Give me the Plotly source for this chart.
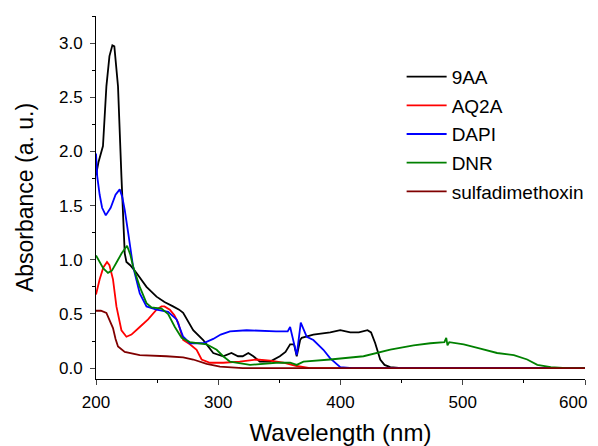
import plotly.graph_objects as go

# ---- data ----
wl_9aa = [200, 202, 205.7, 208.5, 211, 213.4, 215, 218, 220.8, 222.5, 223.5, 224.9, 228, 233, 241.3,
          249.5, 256, 263, 268, 271.3, 275, 279.5, 287.7, 295.9, 304, 310.8, 316.2, 320, 324.6,
          328.7, 334, 342.4, 350.4, 355, 358.8, 362, 364.2, 367, 368.3, 377.8, 391.6, 399.8, 408,
          415, 422.1, 425, 428.4, 432.5, 436, 440.7, 450, 500, 550, 600]
abs_9aa = [1.78, 1.9, 2.05, 2.6, 2.88, 2.98, 2.97, 2.6, 1.77, 1.38, 1.06, 0.98, 0.95, 0.88, 0.75,
           0.66, 0.61, 0.57, 0.54, 0.51, 0.44, 0.35, 0.26, 0.14, 0.11, 0.14, 0.11, 0.11, 0.14,
           0.11, 0.06, 0.06, 0.11, 0.15, 0.22, 0.22, 0.11, 0.26, 0.28, 0.31, 0.33, 0.35, 0.33,
           0.33, 0.35, 0.33, 0.23, 0.08, 0.03, 0.01, 0.0, 0.0, 0.0, 0.0]

wl_aq2a = [200, 203, 206, 209, 211, 213.9, 216.7, 220.8, 224.9, 229, 235.8, 242.6, 249.5, 253.6,
           256, 260.4, 264, 267.2, 271.3, 276.8, 282.3, 286.4, 293.2, 304, 317.6, 331.3, 342.4,
           353.3, 364.2, 375, 400, 450, 500, 550, 600]
abs_aq2a = [0.68, 0.82, 0.93, 0.98, 0.95, 0.82, 0.57, 0.35, 0.29, 0.31, 0.38, 0.45, 0.54, 0.57,
            0.57, 0.54, 0.49, 0.42, 0.26, 0.22, 0.17, 0.08, 0.05, 0.05, 0.06, 0.08, 0.07,
            0.05, 0.02, 0.0, 0.0, 0.0, 0.0, 0.0, 0.0]

wl_dapi = [200, 201, 203, 205, 208, 212, 216, 219.4, 221.5, 223.5, 226.3, 230.3, 235.8, 241.3,
           249.5, 259, 265.9, 271.3, 276.8, 287.7, 295.9, 302, 309.6, 323.2, 347.3, 356.8, 358.8,
           361.5, 364.2, 367.5, 371, 372.4, 377.8, 386, 391.6, 399.8, 410, 450, 500, 550, 600]
abs_dapi = [1.98, 1.77, 1.6, 1.48, 1.41, 1.48, 1.6, 1.65, 1.58, 1.46, 1.25, 0.94, 0.69, 0.57,
            0.54, 0.52, 0.45, 0.29, 0.23, 0.23, 0.27, 0.31, 0.34, 0.35, 0.34, 0.34, 0.38,
            0.26, 0.12, 0.42, 0.32, 0.29, 0.26, 0.17, 0.09, 0.01, 0.0, 0.0, 0.0, 0.0, 0.0]

wl_dnr = [200, 203, 206, 209.8, 213, 217, 221, 225.4, 228, 230.3, 235.8, 241.3, 245.4, 253.6,
          259, 264.5, 270, 276.8, 290.5, 298.7, 304, 309.6, 326, 347.3, 358.8, 364.2, 369.7,
          391.6, 418.8, 440.7, 459.8, 473.5, 485, 486.5, 487.5, 489, 500.8, 514.4, 528.1,
          541.8, 552.7, 561, 572, 585, 600]
abs_dnr = [1.04, 0.98, 0.92, 0.88, 0.9, 0.98, 1.06, 1.13, 1.05, 0.94, 0.75, 0.6, 0.56, 0.55,
           0.5, 0.38, 0.28, 0.24, 0.22, 0.17, 0.11, 0.06, 0.03, 0.05, 0.05, 0.03, 0.06,
           0.08, 0.11, 0.17, 0.21, 0.23, 0.24, 0.28, 0.21, 0.24, 0.22, 0.18, 0.14,
           0.12, 0.08, 0.03, 0.01, 0.0, 0.0]

wl_sulfa = [200, 204, 208.5, 211, 213.9, 216, 218, 223.5, 235.8, 257.6, 271.3, 279.5, 290.5,
            301.4, 320, 400, 500, 600]
abs_sulfa = [0.53, 0.53, 0.51, 0.45, 0.37, 0.27, 0.2, 0.15, 0.12, 0.11, 0.1, 0.08, 0.04,
             0.015, 0.0, 0.0, 0.0, 0.0]

series = [
    ("9AA", wl_9aa, abs_9aa, "#000000"),
    ("AQ2A", wl_aq2a, abs_aq2a, "#ff0000"),
    ("DAPI", wl_dapi, abs_dapi, "#0000ff"),
    ("DNR", wl_dnr, abs_dnr, "#008000"),
    ("sulfadimethoxin", wl_sulfa, abs_sulfa, "#800000"),
]

x_ticks = [200, 300, 400, 500, 600]
# last label padded with no-break spaces so it stays inside the visible window
x_ticktext = ["200", "300", "400", "500", "600" + "\u00a0" * 5]
y_ticks = [0.0, 0.5, 1.0, 1.5, 2.0, 2.5, 3.0]

fig = go.Figure()
for name, x, y, c in series:
    fig.add_trace(go.Scatter(x=x, y=y, mode="lines", name=name, legendgroup=name,
                             line=dict(color=c, width=1.8)))

font = "Liberation Sans, Arial, sans-serif"
# the page body adds an 8px offset, so the figure is 8px smaller than the window
fig.update_layout(
    width=590, height=438,
    margin=dict(l=88, r=13, t=8, b=67),
    paper_bgcolor="white", plot_bgcolor="white",
    font=dict(family=font, color="black", size=17),
    showlegend=True,
    legend=dict(x=0.625, y=0.885, xanchor="left", yanchor="top",
                font=dict(size=19, family=font), bgcolor="rgba(0,0,0,0)",
                traceorder="grouped", tracegroupgap=1, itemwidth=40),
    xaxis=dict(range=[200, 600], tickvals=x_ticks, ticktext=x_ticktext, ticks="outside",
               ticklen=5, tickwidth=1,
               showline=True, linecolor="black", linewidth=1, showgrid=False, zeroline=False,
               automargin=False, ticklabeloverflow="allow",
               minor=dict(ticks="outside", dtick=50, ticklen=3, tickwidth=1, tickcolor="black"),
               tickfont=dict(size=17), ticklabelstandoff=3,
               title=dict(text="Wavelength (nm)", font=dict(size=24), standoff=14)),
    yaxis=dict(range=[-0.1, 3.25], tickvals=y_ticks, tickformat=".1f", ticks="outside", ticklen=5,
               tickwidth=1, showline=True, linecolor="black", linewidth=1, showgrid=False,
               zeroline=False, automargin=False,
               minor=dict(ticks="outside", dtick=0.25, tick0=0, ticklen=3, tickwidth=1, tickcolor="black"),
               tickfont=dict(size=17), ticklabelstandoff=4,
               title=dict(text="Absorbance (a. u.)", font=dict(size=23), standoff=18)),
)

fig.write_html("out.html", config={"displayModeBar": False},
               post_script="document.documentElement.style.overflow='hidden';document.body.style.overflow='hidden';")
